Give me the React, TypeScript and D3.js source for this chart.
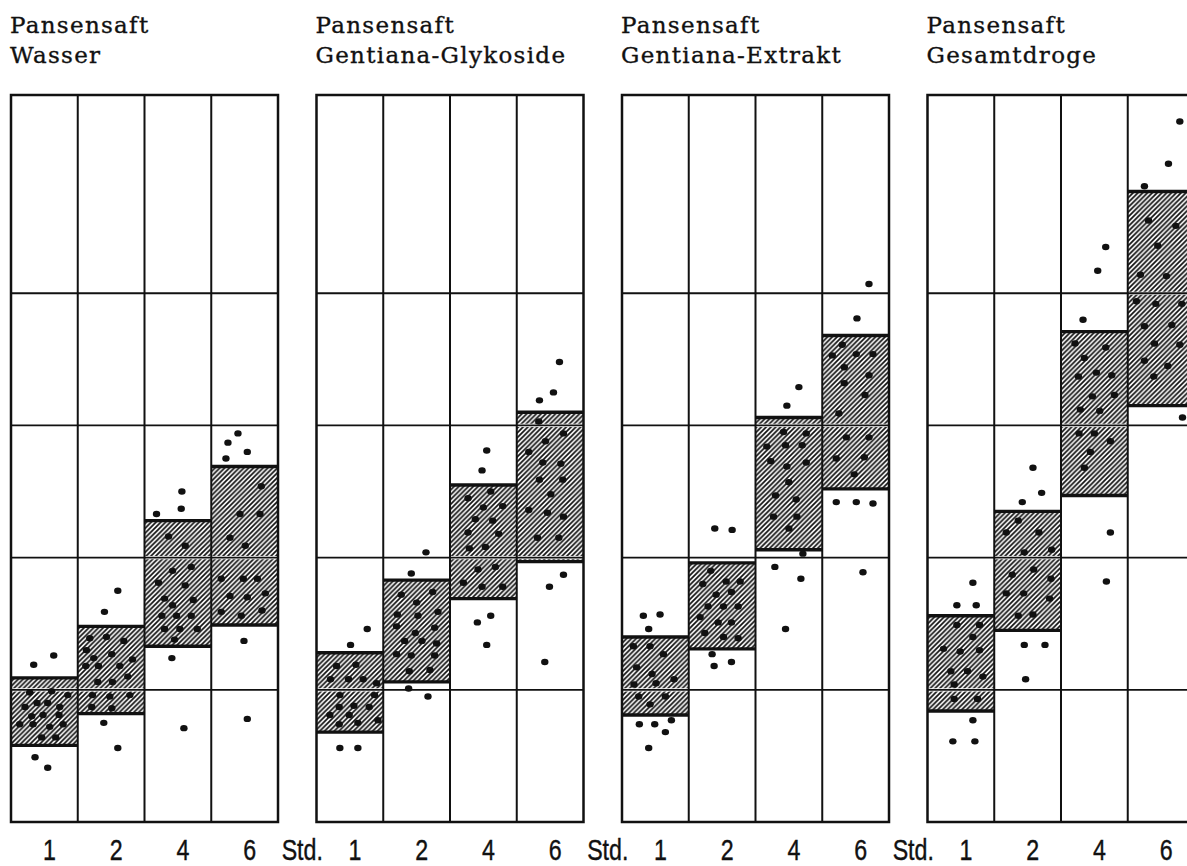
import React from "react";
import * as d3 from "d3";

// panel captions (two lines each)
const captionTop = ["Pansensaft", "Pansensaft", "Pansensaft", "Pansensaft"];
const captionBottom = ["Wasser", "Gentiana-Glykoside", "Gentiana-Extrakt", "Gesamtdroge"];
const hours = ["1", "2", "4", "6"];
const unitLabel = "Std.";
const gridLevels = [10, 20, 30, 40];
const yMax = 55;

// hatched range per hour (low / high)
const wasserLow = [5.8, 8.2, 13.3, 14.9];
const wasserHigh = [10.9, 14.8, 22.8, 26.9];
const glykosideLow = [6.8, 10.6, 16.9, 19.7];
const glykosideHigh = [12.8, 18.3, 25.5, 31.0];
const extraktLow = [8.1, 13.1, 20.6, 25.2];
const extraktHigh = [14.0, 19.6, 30.6, 36.8];
const drogeLow = [8.4, 14.5, 24.7, 31.5];
const drogeHigh = [15.6, 23.5, 37.1, 47.7];

// single observations: [position across the column 0..1, value]
const wasserDots = [
  [[.34, 11.9], [.64, 12.6], [.28, 9.8], [.61, 9.9], [.85, 9.6], [.21, 8.7], [.39, 9.0], [.55, 9.0], [.73, 8.7], [.31, 8.0], [.48, 8.1], [.72, 8.1], [.13, 7.4], [.33, 7.4], [.58, 7.2], [.78, 7.4], [.46, 6.4], [.67, 6.4], [.36, 4.9], [.55, 4.1]],
  [[.60, 17.5], [.40, 15.9], [.18, 13.9], [.43, 14.0], [.69, 13.7], [.13, 13.0], [.24, 12.4], [.51, 12.7], [.82, 12.3], [.12, 11.8], [.31, 11.8], [.63, 11.8], [.30, 10.6], [.52, 10.6], [.75, 11.0], [.22, 9.6], [.48, 9.5], [.78, 9.6], [.21, 8.7], [.51, 8.6], [.39, 7.5], [.60, 5.6]],
  [[.56, 25.0], [.55, 23.7], [.18, 23.3], [.36, 21.6], [.61, 20.9], [.42, 19.0], [.70, 19.3], [.21, 18.1], [.61, 17.9], [.30, 16.9], [.73, 16.8], [.42, 16.4], [.26, 15.6], [.48, 15.6], [.70, 15.6], [.30, 14.6], [.53, 14.6], [.79, 14.6], [.45, 13.8], [.41, 12.4], [.59, 7.1]],
  [[.40, 29.4], [.25, 28.7], [.54, 28.0], [.22, 27.5], [.75, 25.4], [.43, 23.3], [.73, 23.3], [.28, 21.5], [.51, 20.9], [.15, 18.4], [.48, 18.4], [.69, 18.4], [.28, 17.1], [.54, 17.0], [.81, 17.3], [.15, 15.9], [.45, 15.6], [.76, 16.0], [.49, 13.7], [.54, 7.8]],
];
const glykosideDots = [
  [[.76, 14.6], [.51, 13.4], [.30, 11.8], [.59, 11.9], [.21, 10.8], [.48, 10.8], [.70, 10.8], [.90, 10.5], [.35, 9.6], [.87, 9.6], [.34, 8.7], [.56, 8.8], [.79, 8.7], [.20, 8.1], [.49, 8.1], [.92, 7.7], [.34, 7.4], [.62, 7.5], [.35, 5.6], [.62, 5.6]],
  [[.64, 20.4], [.42, 18.8], [.27, 17.2], [.74, 17.4], [.50, 16.6], [.21, 15.7], [.52, 15.6], [.82, 15.9], [.20, 14.8], [.48, 14.3], [.77, 14.7], [.32, 13.7], [.58, 13.7], [.80, 13.5], [.20, 12.7], [.42, 12.6], [.77, 12.6], [.39, 11.4], [.70, 11.5], [.38, 10.1], [.67, 9.5]],
  [[.55, 28.1], [.48, 26.6], [.61, 25.0], [.27, 24.5], [.50, 23.8], [.79, 23.9], [.38, 22.9], [.64, 22.8], [.27, 21.9], [.73, 21.8], [.29, 20.7], [.53, 20.8], [.42, 19.1], [.68, 19.3], [.20, 18.1], [.48, 17.8], [.79, 17.8], [.61, 15.6], [.41, 15.1], [.55, 13.4]],
  [[.64, 34.8], [.55, 32.5], [.34, 31.9], [.33, 30.3], [.70, 29.4], [.43, 28.8], [.18, 28.0], [.39, 27.2], [.66, 27.1], [.34, 25.9], [.69, 25.9], [.51, 24.8], [.18, 23.6], [.46, 23.4], [.70, 23.1], [.31, 21.5], [.63, 21.5], [.70, 18.7], [.49, 17.8], [.42, 12.1]],
];
const extraktDots = [
  [[.32, 15.6], [.57, 15.7], [.40, 14.6], [.17, 13.3], [.42, 13.3], [.62, 12.7], [.22, 11.7], [.45, 11.2], [.78, 10.8], [.18, 10.4], [.51, 10.5], [.25, 9.5], [.65, 9.5], [.42, 8.9], [.26, 7.4], [.49, 7.4], [.65, 6.8], [.74, 7.7], [.40, 5.6]],
  [[.39, 22.2], [.65, 22.1], [.33, 19.0], [.77, 18.2], [.21, 18.0], [.56, 18.2], [.41, 17.2], [.64, 17.4], [.29, 16.3], [.52, 16.3], [.74, 16.3], [.17, 15.5], [.44, 15.1], [.64, 15.1], [.24, 14.3], [.52, 14.0], [.74, 13.9], [.35, 12.7], [.38, 11.8], [.64, 12.1]],
  [[.65, 32.9], [.47, 31.5], [.42, 29.5], [.76, 29.4], [.17, 28.4], [.45, 28.5], [.70, 28.5], [.23, 27.3], [.47, 26.9], [.76, 27.2], [.50, 25.7], [.30, 24.7], [.61, 24.4], [.27, 23.1], [.62, 23.1], [.50, 22.2], [.71, 20.3], [.29, 19.3], [.68, 18.4], [.45, 14.6]],
  [[.70, 40.7], [.52, 38.1], [.30, 36.1], [.15, 35.3], [.51, 35.4], [.76, 35.4], [.33, 34.4], [.70, 33.8], [.33, 33.2], [.64, 32.3], [.25, 30.9], [.36, 29.1], [.70, 29.1], [.21, 27.5], [.63, 27.6], [.48, 26.3], [.21, 24.2], [.51, 24.2], [.76, 24.1], [.61, 18.9]],
];
const drogeDots = [
  [[.68, 18.1], [.44, 16.4], [.73, 16.4], [.44, 14.9], [.78, 14.9], [.68, 14.0], [.24, 13.1], [.49, 12.9], [.78, 13.0], [.35, 11.4], [.60, 11.4], [.83, 11.0], [.40, 10.4], [.40, 9.3], [.75, 9.3], [.68, 7.7], [.38, 6.1], [.71, 6.1]],
  [[.58, 26.8], [.71, 24.9], [.42, 24.2], [.36, 22.8], [.18, 21.9], [.67, 21.9], [.86, 20.6], [.45, 20.4], [.27, 18.7], [.59, 19.1], [.85, 18.4], [.18, 17.3], [.44, 17.3], [.83, 16.9], [.36, 15.6], [.58, 15.7], [.45, 13.4], [.76, 13.4], [.47, 10.8]],
  [[.67, 43.5], [.55, 41.7], [.33, 38.0], [.21, 36.2], [.67, 35.9], [.35, 35.1], [.53, 34.0], [.76, 33.8], [.26, 33.7], [.80, 32.3], [.47, 32.2], [.29, 31.2], [.58, 31.1], [.27, 29.4], [.50, 29.4], [.74, 28.8], [.44, 28.0], [.35, 26.8], [.74, 21.9], [.68, 18.2]],
  [[.78, 53.0], [.61, 49.8], [.25, 48.1], [.31, 45.5], [.72, 45.1], [.45, 43.6], [.19, 41.4], [.58, 41.3], [.13, 39.4], [.42, 39.2], [.81, 39.2], [.25, 37.5], [.66, 37.6], [.40, 36.2], [.78, 36.1], [.25, 34.9], [.60, 34.5], [.39, 33.7], [.82, 30.6]],
];

const panels = [
  { low: wasserLow, high: wasserHigh, dots: wasserDots },
  { low: glykosideLow, high: glykosideHigh, dots: glykosideDots },
  { low: extraktLow, high: extraktHigh, dots: extraktDots },
  { low: drogeLow, high: drogeHigh, dots: drogeDots },
];

const W = 1187;
const H = 866;
const serif = "'DejaVu Serif', serif";
const narrow = "'Liberation Sans', Arial, sans-serif";

// condensed sans label: squeeze horizontally around its anchor
function Label({ x, text }: { x: number; text: string }) {
  return (
    <text transform={`translate(${x},859.5) scale(0.8,1)`} textAnchor="middle"
      fontFamily={narrow} fontSize={29} fill="#111" stroke="#111" strokeWidth={0.4}>
      {text}
    </text>
  );
}

export default function App() {
  const px = d3.scaleBand<string>().domain(captionBottom).range([11, 1194.5]).paddingInner(0.126);
  const cx = d3.scaleBand<string>().domain(hours).range([0, px.bandwidth()]);
  const y = d3.scaleLinear().domain([0, yMax]).range([822, 95]);
  const pw = px.bandwidth();
  const gap = px.step() - pw;

  return (
    <svg width={W} height={H} style={{ position: "absolute", left: 0, top: 0, background: "#fff" }}>
      <defs>
        <pattern id="hatch" patternUnits="userSpaceOnUse" width={4.8} height={4.8}>
          <path d="M-1,1 l2,-2 M0,4.8 l4.8,-4.8 M3.8,5.8 l2,-2" stroke="#111" strokeWidth={1.75} />
        </pattern>
      </defs>
      <rect width={W} height={H} fill="#fff" />
      {captionBottom.map((name, pi) => {
        const p = panels[pi];
        const x0 = px(name)!;
        return (
          <g key={name} transform={`translate(${x0},0)`}>
            <text x={-1} y={33} fontFamily={serif} fontSize={23} letterSpacing={1.3} fill="#111" stroke="#111" strokeWidth={0.35}>
              {captionTop[pi]}
            </text>
            <text x={-1} y={63} fontFamily={serif} fontSize={23} letterSpacing={1.3} fill="#111" stroke="#111" strokeWidth={0.35}>
              {name}
            </text>
            {hours.map((h, i) => (
              <rect key={"b" + h} x={cx(h)} width={cx.bandwidth()} y={y(p.high[i])}
                height={y(p.low[i]) - y(p.high[i])} fill="url(#hatch)" />
            ))}
            {gridLevels.map((g) => (
              <g key={"g" + g}>
                <line x1={0} x2={pw} y1={y(g)} y2={y(g)} stroke="#fff" strokeWidth={3.2} />
                <line x1={0} x2={pw} y1={y(g)} y2={y(g)} stroke="#111" strokeWidth={1.8} />
              </g>
            ))}
            {hours.slice(1).map((h) => (
              <line key={"v" + h} x1={cx(h)} x2={cx(h)} y1={y(yMax)} y2={y(0)} stroke="#111" strokeWidth={2} />
            ))}
            <rect x={0} y={y(yMax)} width={pw} height={y(0) - y(yMax)} fill="none" stroke="#111" strokeWidth={2.5} />
            {hours.map((h, i) => (
              <g key={"e" + h}>
                <line x1={cx(h)} x2={cx(h)! + cx.bandwidth()} y1={y(p.high[i])} y2={y(p.high[i])} stroke="#111" strokeWidth={3.4} />
                <line x1={cx(h)} x2={cx(h)! + cx.bandwidth()} y1={y(p.low[i])} y2={y(p.low[i])} stroke="#111" strokeWidth={3.4} />
              </g>
            ))}
            {hours.map((h, i) =>
              p.dots[i].map((d, k) => (
                <ellipse key={h + "-" + k} cx={cx(h)! + d[0] * cx.bandwidth()} cy={y(d[1])} rx={3.7} ry={3.2} fill="#111" />
              ))
            )}
            {hours.map((h) => (
              <Label key={"t" + h} x={cx(h)! + cx.bandwidth() / 2 + 5} text={h} />
            ))}
            {pi < captionBottom.length - 1 && <Label x={pw + gap / 2 + 5} text={unitLabel} />}
          </g>
        );
      })}
    </svg>
  );
}
